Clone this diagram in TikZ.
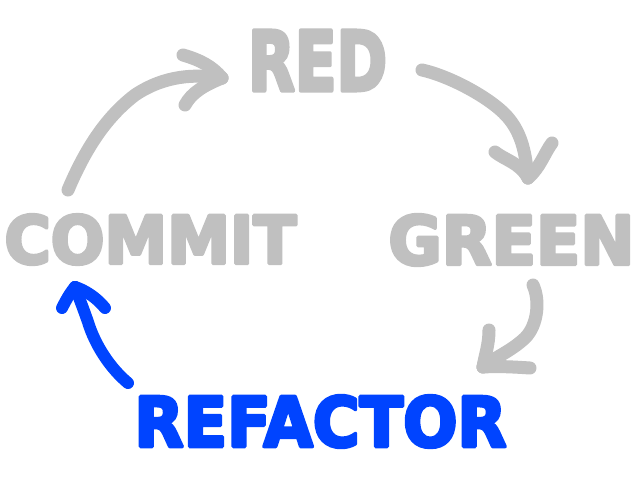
\documentclass[tikz,border=0pt]{standalone}
\usepackage{fontspec}
\usepackage{graphicx}
\setmainfont{DejaVu Sans}
\newfontfamily\handfont{DejaVu Sans Bold}[FakeBold=5]
\definecolor{pen}{HTML}{C0C0C0}
\definecolor{bluepen}{HTML}{0044FF}
\tikzset{
  stroke/.style={line width=13pt, line cap=round, line join=round, draw=pen},
  bluestroke/.style={stroke, draw=bluepen, line width=12pt},
  word/.style={anchor=center, inner sep=0pt, outer sep=0pt, font=\handfont, line join=round},
}
\begin{document}
\begin{tikzpicture}[x=1pt, y=-1pt]
\fill[white] (0,0) rectangle (640,480);
\useasboundingbox (0,0) rectangle (640,480);

% words
\node[word, text=pen] (red) at (317.5,60.5) {\resizebox*{139pt}{60pt}{RED}};
\node[word, text=pen] (commit) at (150.5,239.5) {\resizebox*{292pt}{50pt}{COMMIT}};
\node[word, text=pen] (green) at (511.5,240) {\resizebox*{246pt}{51pt}{GREEN}};
\node[word, text=bluepen] (refactor) at (320.5,421.5) {\resizebox*{372pt}{52pt}{REFACTOR}};

% arrow COMMIT -> RED
\coordinate (a1s) at (68,190);
\coordinate (a1t) at (222,78);
\draw[stroke] (a1s) .. controls (85,150) and (105,118) .. (135,95)
  .. controls (165,75) and (195,74) .. (a1t);
\draw[stroke] (183,55) .. controls (200,60) and (212,66) .. (a1t);
\draw[stroke] (185,105) .. controls (192,92) and (205,85) .. (a1t);

% arrow RED -> GREEN
\coordinate (a2s) at (422,70);
\coordinate (a2t) at (528,178);
\draw[stroke] (a2s) .. controls (450,76) and (495,100) .. (510,120)
  .. controls (524,138) and (526,160) .. (a2t);
\draw[stroke] (495,152) .. controls (505,160) and (520,163) .. (a2t);
\draw[stroke] (552,143) .. controls (545,152) and (540,168) .. (a2t);

% arrow GREEN -> REFACTOR
\coordinate (a3s) at (533,285);
\coordinate (a3t) at (483,367);
\draw[stroke] (a3s) .. controls (540,300) and (538,325) .. (525,338)
  .. controls (510,352) and (495,357) .. (a3t);
\draw[stroke] (489,330) .. controls (489,345) and (485,355) .. (a3t);
\draw[stroke] (530,368) .. controls (515,367) and (498,366) .. (a3t);

% blue arrow REFACTOR -> COMMIT
\coordinate (b1s) at (128,383);
\coordinate (b1t) at (75,287);
\draw[bluestroke] (b1s) .. controls (110,368) and (95,345) .. (88,322)
  .. controls (82,305) and (78,295) .. (b1t);
\draw[bluestroke] (62,308) .. controls (66,300) and (70,293) .. (b1t);
\draw[bluestroke] (105,308) .. controls (97,298) and (85,290) .. (b1t);
\end{tikzpicture}
\end{document}
